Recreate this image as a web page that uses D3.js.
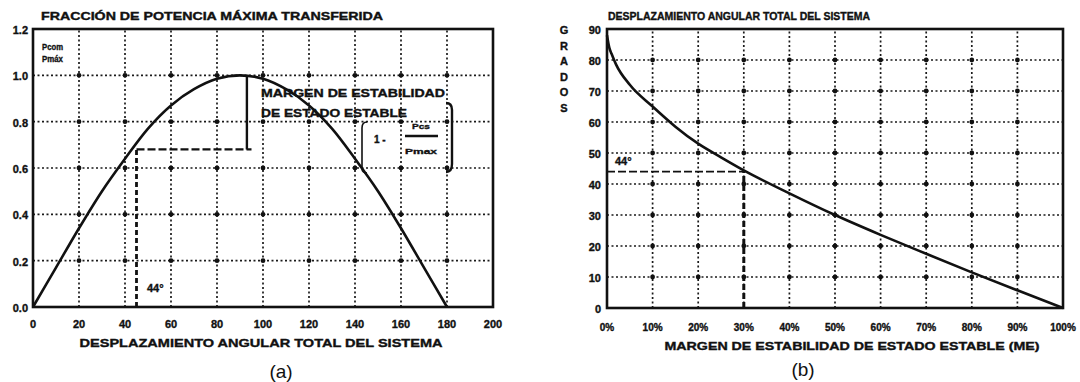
<!DOCTYPE html>
<html>
<head>
<meta charset="utf-8">
<script src="https://cdn.jsdelivr.net/npm/d3@7"></script>
<style>
  html, body { margin: 0; padding: 0; background: #fff; }
  svg { display: block; font-family: "Liberation Sans", Arial, sans-serif; }
  .lbl { font-weight: bold; fill: #111; stroke: #111; stroke-width: 0.35; }
</style>
</head>
<body>
<svg id="chart" width="1080" height="382"></svg>
<script>
// (a) power fraction vs angle
const angleDeg = [0, 10, 20, 30, 40, 50, 60, 70, 80, 90, 100, 110, 120, 130, 140, 150, 160, 170, 180]
const powerFrac = [0, 0.17, 0.34, 0.50, 0.64, 0.77, 0.87, 0.94, 0.985, 1.0, 0.985, 0.94, 0.87, 0.77, 0.64, 0.50, 0.34, 0.17, 0]
const xTicksA = [0, 20, 40, 60, 80, 100, 120, 140, 160, 180, 200]
const yTicksA = [0, 0.2, 0.4, 0.6, 0.8, 1.0, 1.2]

// (b) angle vs stability margin
const marginPct = [0, 0.5, 1, 2, 5, 10, 15, 20, 25, 30, 40, 50, 60, 70, 80, 90, 100]
const angleB = [88, 84, 82, 78.5, 72, 65, 58.5, 53, 48.6, 44.4, 37, 30, 23.6, 17.5, 11.5, 5.7, 0]
const xTicksB = [0, 10, 20, 30, 40, 50, 60, 70, 80, 90, 100]
const yTicksB = [0, 10, 20, 30, 40, 50, 60, 70, 80, 90]

const svg = d3.select('#chart')

function grid(g, x, y, xs, ys) {
  const [x0, x1] = x.range()
  const [y0, y1] = y.range()
  g.selectAll('line.gv').data(xs).enter().append('line')
    .attr('x1', d => x(d)).attr('x2', d => x(d)).attr('y1', y0).attr('y2', y1)
    .attr('stroke', '#1a1a1a').attr('stroke-width', 1.7).attr('stroke-dasharray', '2,2.5')
  g.selectAll('line.gh').data(ys).enter().append('line')
    .attr('y1', d => y(d)).attr('y2', d => y(d)).attr('x1', x0).attr('x2', x1)
    .attr('stroke', '#1a1a1a').attr('stroke-width', 1.7).attr('stroke-dasharray', '2,2.5')
  // dots where grid lines meet
  const pts = []
  xs.forEach(a => ys.forEach(b => pts.push([a, b])))
  g.selectAll('circle.gd').data(pts).enter().append('circle')
    .attr('cx', d => x(d[0])).attr('cy', d => y(d[1])).attr('r', 2.4).attr('fill', '#111')
}

function text(g, s, x, y, size, len, anchor) {
  const t = g.append('text').attr('class', 'lbl').attr('x', x).attr('y', y)
    .attr('font-size', size).attr('text-anchor', anchor || 'start').text(s)
  if (len) t.attr('textLength', len).attr('lengthAdjust', 'spacingAndGlyphs')
  return t
}

// ---------- chart (a) ----------
const xa = d3.scaleLinear().domain([0, 200]).range([33, 493])
const ya = d3.scaleLinear().domain([0, 1.2]).range([307, 29])
const ga = svg.append('g')

grid(ga, xa, ya, xTicksA.slice(1, -1), yTicksA.slice(1, -1))
ga.append('rect').attr('x', xa(0)).attr('y', ya(1.2)).attr('width', xa(200) - xa(0)).attr('height', ya(0) - ya(1.2))
  .attr('fill', 'none').attr('stroke', '#111').attr('stroke-width', 2.6)

ga.selectAll('text.yt').data(yTicksA).enter().append('text').attr('class', 'lbl')
  .attr('x', 28).attr('y', d => ya(d) + 5).attr('font-size', 11).attr('text-anchor', 'end')
  .text(d => d.toFixed(1))
ga.selectAll('text.xt').data(xTicksA).enter().append('text').attr('class', 'lbl')
  .attr('x', d => xa(d)).attr('y', 328).attr('font-size', 11).attr('text-anchor', 'middle')
  .text(d => d)

// dashed guides at 44 degrees
const d44 = 45, p44 = 0.68
ga.append('path')
  .attr('d', `M${xa(d44)},${ya(0)}V${ya(p44)}`)
  .attr('stroke', '#111').attr('stroke-width', 2.8).attr('stroke-dasharray', '5,3').attr('fill', 'none')
ga.append('path')
  .attr('d', `M${xa(d44)},${ya(p44)}H${xa(95)}`)
  .attr('stroke', '#111').attr('stroke-width', 2.2).attr('stroke-dasharray', '8,3').attr('fill', 'none')
ga.append('path')
  .attr('d', `M${xa(93)},${ya(1.0)}V${ya(p44)}`)
  .attr('stroke', '#111').attr('stroke-width', 2.4).attr('fill', 'none')

ga.append('path').datum(angleDeg.map((d, i) => [d, powerFrac[i]]))
  .attr('d', d3.line().x(d => xa(d[0])).y(d => ya(d[1])).curve(d3.curveCatmullRom))
  .attr('fill', 'none').attr('stroke', '#111').attr('stroke-width', 2.6)

text(ga, 'FRACCIÓN DE POTENCIA MÁXIMA TRANSFERIDA', 41, 20, 10, 342)
text(ga, 'Pcom', 42, 50, 9, 21)
text(ga, 'Pmáx', 42, 62, 9, 21)
text(ga, 'MARGEN DE ESTABILIDAD', 261, 97, 10.5, 184)
text(ga, 'DE ESTADO ESTABLE', 261, 117, 10.5, 146)
text(ga, '1  -', 374, 143, 10)
text(ga, 'Pcs', 412, 129, 8, 18)
ga.append('line').attr('x1', 405).attr('x2', 438).attr('y1', 136).attr('y2', 136)
  .attr('stroke', '#111').attr('stroke-width', 2.4)
text(ga, 'Pmax', 405, 154, 8, 32)
ga.append('path').attr('d', 'M367,122 Q362,122 362,128 V168 Q362,173 367,173')
  .attr('fill', 'none').attr('stroke', '#111').attr('stroke-width', 1.6)
ga.append('path').attr('d', 'M446,103 Q452,103 452,110 V164 Q452,172 446,172')
  .attr('fill', 'none').attr('stroke', '#111').attr('stroke-width', 2.4)
text(ga, '44°', 147, 292, 11)
text(ga, 'DESPLAZAMIENTO ANGULAR TOTAL DEL SISTEMA', 261, 347, 11, 363, 'middle')
svg.append('text').attr('x', 281).attr('y', 378).attr('font-size', 19).attr('text-anchor', 'middle')
  .attr('fill', '#111').text('(a)')

// ---------- chart (b) ----------
const xb = d3.scaleLinear().domain([0, 100]).range([607, 1063])
const yb = d3.scaleLinear().domain([0, 90]).range([308, 29])
const gb = svg.append('g')

grid(gb, xb, yb, xTicksB.slice(1, -1), yTicksB.slice(1, -1))
gb.append('rect').attr('x', xb(0)).attr('y', yb(90)).attr('width', xb(100) - xb(0)).attr('height', yb(0) - yb(90))
  .attr('fill', 'none').attr('stroke', '#111').attr('stroke-width', 2.6)

gb.selectAll('text.yt').data(yTicksB).enter().append('text').attr('class', 'lbl')
  .attr('x', 601).attr('y', d => yb(d) + 5).attr('font-size', 11).attr('text-anchor', 'end')
  .text(d => d)
gb.selectAll('text.xt').data(xTicksB).enter().append('text').attr('class', 'lbl')
  .attr('x', d => xb(d)).attr('y', 331).attr('font-size', 10).attr('text-anchor', 'middle')
  .text(d => d + '%')

const m30 = 30, a30 = 44
gb.append('path')
  .attr('d', `M${xb(0)},${yb(a30)}H${xb(m30)}`)
  .attr('stroke', '#111').attr('stroke-width', 1.8).attr('stroke-dasharray', '8,3').attr('fill', 'none')
gb.append('path')
  .attr('d', `M${xb(m30)},${yb(0)}V${yb(a30)}`)
  .attr('stroke', '#111').attr('stroke-width', 3).attr('stroke-dasharray', '6,3').attr('fill', 'none')

gb.append('path').datum(marginPct.map((d, i) => [d, angleB[i]]))
  .attr('d', d3.line().x(d => xb(d[0])).y(d => yb(d[1])).curve(d3.curveMonotoneX))
  .attr('fill', 'none').attr('stroke', '#111').attr('stroke-width', 2.6)

text(gb, 'DESPLAZAMIENTO ANGULAR TOTAL DEL SISTEMA', 608, 20, 10, 262)
'GRADOS'.split('').forEach((c, i) => text(gb, c, 564, 34 + i * 15.5, 11, null, 'middle'))
text(gb, '44°', 615, 165, 11)
text(gb, 'MARGEN DE ESTABILIDAD DE ESTADO ESTABLE (ME)', 852, 350, 10.5, 375, 'middle')
svg.append('text').attr('x', 803).attr('y', 376).attr('font-size', 19).attr('text-anchor', 'middle')
  .attr('fill', '#111').text('(b)')
</script>
</body>
</html>
